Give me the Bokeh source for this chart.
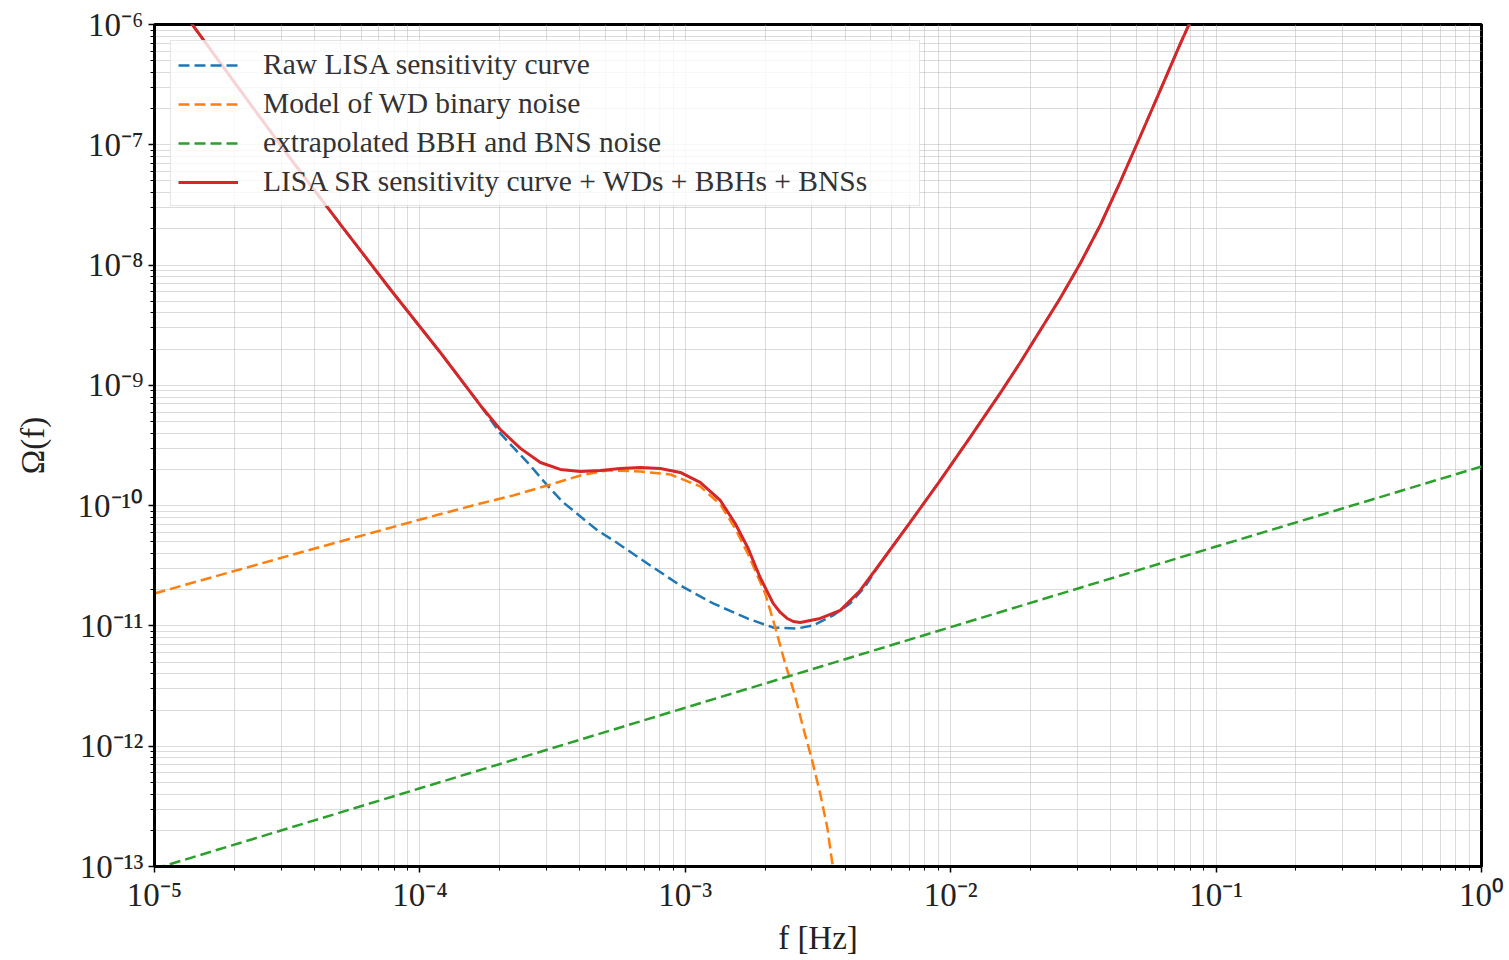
import numpy as np
from bokeh.plotting import figure
from bokeh.models import FixedTicker, CustomJSTickFormatter, Legend, LegendItem
from bokeh.embed import file_html
from bokeh.resources import INLINE

# ---- data (log10 values) ----
total_logf = [-4.861, -4.676, -4.488, -4.299, -4.111, -3.923, -3.772, -3.697, -3.621, -3.546,
              -3.471, -3.395, -3.320, -3.245, -3.169, -3.094, -3.019, -2.944, -2.868, -2.812,
              -2.763, -2.718, -2.669, -2.642, -2.616, -2.593, -2.567, -2.492, -2.416, -2.341,
              -2.266, -2.153, -2.040, -1.927, -1.814, -1.738, -1.663, -1.588, -1.512, -1.437,
              -1.362, -1.286, -1.211, -1.136, -1.098]
total_logO = [-5.99, -6.549, -7.114, -7.663, -8.203, -8.727, -9.167, -9.367, -9.524, -9.641,
              -9.699, -9.716, -9.707, -9.691, -9.682, -9.691, -9.724, -9.807, -9.957, -10.148,
              -10.356, -10.597, -10.813, -10.888, -10.938, -10.963, -10.971, -10.938, -10.871, -10.705,
              -10.481, -10.140, -9.791, -9.433, -9.067, -8.810, -8.544, -8.278, -7.987, -7.671,
              -7.313, -6.931, -6.549, -6.166, -5.98]

raw_logf = [-4.861, -4.676, -4.488, -4.299, -4.111, -3.923, -3.772, -3.697, -3.648, -3.584,
            -3.520, -3.460, -3.395, -3.331, -3.271, -3.143, -3.019, -2.895, -2.766, -2.669,
            -2.578, -2.518, -2.443, -2.379, -2.322, -2.266, -2.153, -2.040, -1.927, -1.814,
            -1.738, -1.663, -1.588, -1.512, -1.437, -1.362, -1.286, -1.211, -1.136, -1.098]
raw_logO = [-5.99, -6.549, -7.114, -7.663, -8.203, -8.727, -9.167, -9.400, -9.516, -9.666,
            -9.832, -9.973, -10.090, -10.206, -10.289, -10.481, -10.663, -10.813, -10.938, -11.013,
            -11.021, -10.996, -10.913, -10.813, -10.672, -10.481, -10.140, -9.791, -9.433, -9.067,
            -8.810, -8.544, -8.278, -7.987, -7.671, -7.313, -6.931, -6.549, -6.166, -5.98]

wd_logf = [-5.0, -4.450, -3.998, -3.772, -3.648, -3.520, -3.395, -3.294, -3.169, -3.056,
           -2.944, -2.868, -2.812, -2.763, -2.699, -2.661, -2.627, -2.589, -2.556, -2.522,
           -2.492, -2.465, -2.446, -2.439]
wd_logO = [-10.730, -10.389, -10.115, -9.982, -9.915, -9.832, -9.749, -9.707, -9.716, -9.741,
           -9.840, -9.990, -10.190, -10.406, -10.730, -11.013, -11.287, -11.561, -11.844, -12.118,
           -12.392, -12.675, -12.974, -13.05]

bbh_logf = [-5.0, -4.0, -3.0, -2.0, -1.0, 0.0]
bbh_logO = [-13.02, -12.35, -11.68, -11.01, -10.34, -9.675]

x_major_exp = [-5, -4, -3, -2, -1, 0]
y_major_exp = [-13, -12, -11, -10, -9, -8, -7, -6]

labels = ["Raw LISA sensitivity curve",
          "Model of WD binary noise",
          "extrapolated BBH and BNS noise",
          "LISA SR sensitivity curve + WDs + BBHs + BNSs"]

def pw(a):
    return [10.0 ** v for v in a]

SERIF = "Liberation Serif"

p = figure(width=1509, height=960, x_axis_type="log", y_axis_type="log",
           x_range=(1e-5, 1.0), y_range=(1e-13, 1e-6),
           output_backend="svg", toolbar_location=None,
           min_border_left=154, min_border_right=28, min_border_top=24, min_border_bottom=94)
p.background_fill_color = "white"
p.border_fill_color = "white"
p.outline_line_color = "black"
p.outline_line_width = 3
p.outline_line_alpha = 1.0

xmaj = [10.0 ** e for e in x_major_exp]
ymaj = [10.0 ** e for e in y_major_exp]
xmin = [m * 10.0 ** e for e in x_major_exp[:-1] for m in range(2, 10)]
ymin = [m * 10.0 ** e for e in y_major_exp[:-1] for m in range(2, 10)]
p.xaxis.ticker = FixedTicker(ticks=xmaj, minor_ticks=xmin)
p.yaxis.ticker = FixedTicker(ticks=ymaj, minor_ticks=ymin)

fmt_code = """
const e = Math.round(Math.log10(tick));
const sup = {'-':'\u207b','0':'\u2070','1':'\u00b9','2':'\u00b2','3':'\u00b3','4':'\u2074','5':'\u2075','6':'\u2076','7':'\u2077','8':'\u2078','9':'\u2079'};
return '10' + String(e).split('').map(c => sup[c]).join('');
"""
p.xaxis.formatter = CustomJSTickFormatter(code=fmt_code)
p.yaxis.formatter = CustomJSTickFormatter(code=fmt_code)

for ax in (p.xaxis, p.yaxis):
    ax.axis_line_width = 3
    ax.axis_line_color = "black"
    ax.major_tick_line_width = 1.5
    ax.major_tick_out = 6
    ax.major_tick_in = 0
    ax.minor_tick_line_width = 1
    ax.minor_tick_out = 4
    ax.minor_tick_in = 0
    ax.major_label_text_font = SERIF
    ax.major_label_text_font_size = "33px"
    ax.major_label_text_color = "#222222"
    ax.axis_label_text_font = SERIF
    ax.axis_label_text_font_size = "33px"
    ax.axis_label_text_font_style = "normal"
    ax.axis_label_text_color = "#222222"

p.xaxis.axis_label = "f [Hz]"
p.yaxis.axis_label = "\u03a9(f)"
p.xaxis.major_label_standoff = 4
p.yaxis.major_label_standoff = 5
p.xaxis.axis_label_standoff = 4
p.yaxis.axis_label_standoff = 24

for g in (p.xgrid, p.ygrid):
    g.grid_line_color = "#b0b0b0"
    g.grid_line_alpha = 0.45
    g.grid_line_width = 1
    g.minor_grid_line_color = "#b0b0b0"
    g.minor_grid_line_alpha = 0.45
    g.minor_grid_line_width = 1

DASH = "11 5"
r_raw = p.line(pw(raw_logf), pw(raw_logO), line_color="#1f77b4", line_width=2.5, line_dash=DASH)
r_wd = p.line(pw(wd_logf), pw(wd_logO), line_color="#ff7f0e", line_width=2.5, line_dash=DASH)
r_bbh = p.line(pw(bbh_logf), pw(bbh_logO), line_color="#2ca02c", line_width=2.5, line_dash=DASH)
r_tot = p.line(pw(total_logf), pw(total_logO), line_color="#d62728", line_width=3,
               line_join="round")

legend = Legend(items=[LegendItem(label=labels[0], renderers=[r_raw]),
                       LegendItem(label=labels[1], renderers=[r_wd]),
                       LegendItem(label=labels[2], renderers=[r_bbh]),
                       LegendItem(label=labels[3], renderers=[r_tot])],
                location="top_left")
legend.label_text_font = SERIF
legend.label_text_font_size = "29.5px"
legend.label_text_color = "#333333"
legend.glyph_width = 60
legend.glyph_height = 30
legend.label_height = 30
legend.label_width = 649
legend.spacing = 6
legend.padding = 7
legend.margin = 16
legend.label_standoff = 25
legend.border_line_color = "#cccccc"
legend.border_line_width = 1
legend.background_fill_color = "white"
legend.background_fill_alpha = 0.8
p.add_layout(legend)

open("out.html", "w", encoding="utf-8").write(file_html(p, INLINE))
